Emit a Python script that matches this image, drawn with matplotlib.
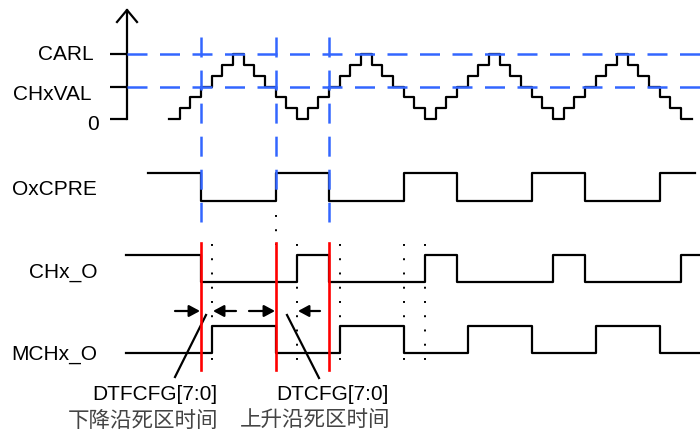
import numpy as np
import matplotlib.pyplot as plt

plt.rcParams['lines.scale_dashes'] = False
plt.rcParams['font.family'] = ['Liberation Sans', 'Noto Sans CJK SC', 'DejaVu Sans']

# timer counter value on every tick (up/down counting)
counter = [0, 1, 2, 3, 4, 5, 6, 5, 4, 3, 2, 1,
           0, 1, 2, 3, 4, 5, 6, 5, 4, 3, 2, 1,
           0, 1, 2, 3, 4, 5, 6, 5, 4, 3, 2, 1,
           0, 1, 2, 3, 4, 5, 6, 5, 4, 3, 2, 1,
           0]
carl = 6
chxval = 3

# edges (in ticks) and levels of the digital signals
ocpre_t = [-2, 3, 10, 15, 22, 27, 34, 39, 46, 49.3]
ocpre_v = [1, 0, 1, 0, 1, 0, 1, 0, 1, 1]
chx_t = [-4, 3, 12, 15, 24, 27, 36, 39, 48, 49.8]
chx_v = [1, 0, 1, 0, 1, 0, 1, 0, 1, 1]
mchx_t = [-4, 4, 10, 16, 22, 28, 34, 40, 46, 49.8]
mchx_v = [0, 1, 0, 1, 0, 1, 0, 1, 0, 0]

blue_t = [3, 10, 15]
red_t = [3, 10, 15]
dot_t = [4, 12, 16, 22, 24]

level_labels = ['CARL', 'CHxVAL', '0']
row_labels = ['OxCPRE', 'CHx_O', 'MCHx_O']

BLUE = '#3366ff'
RED = '#ff0000'
LW = 1.6

# layout: x in ticks, y in pixels from the top
STEP = 128 / 12
X0 = 169


def px(x):
    return (x - X0) / STEP


def cnt_y(k):
    return 119 - k * 65 / 6


def row(v, hi, lo):
    return [hi if b else lo for b in v]


fig = plt.figure(figsize=(7, 4.32), dpi=100)
ax = fig.add_axes([0, 0, 1, 1])
ax.set_xlim(px(0), px(700))
ax.set_ylim(432, 0)
ax.axis('off')

# counter axis with open arrow head
ax.plot([px(127), px(127)], [119, 10], color='black', lw=LW)
ax.plot([px(117), px(127), px(137)], [22, 10, 22], color='black', lw=LW)
for k in [carl, chxval, 0]:
    ax.plot([px(110), px(127)], [cnt_y(k)] * 2, color='black', lw=LW,
            solid_capstyle='butt')

# staircase
t = np.arange(len(counter) + 1)
ax.step(t, [cnt_y(k) for k in counter + counter[-1:]], where='post',
        color='black', lw=LW)

# compare levels
for k in [carl, chxval]:
    ax.plot([px(127), px(700)], [cnt_y(k)] * 2, color=BLUE, lw=1.8,
            dashes=(14.4, 9), zorder=4)
for tb in blue_t:
    bottom = 201 if tb == 10 else 222
    ax.plot([tb, tb], [37, bottom], color=BLUE, lw=1.8, dashes=(14.4, 9.4),
            zorder=4)

# digital waveforms
ax.step(ocpre_t, row(ocpre_v, 173, 201), where='post', color='black', lw=LW)
ax.step(chx_t, row(chx_v, 255, 282), where='post', color='black', lw=LW)
ax.step(mchx_t, row(mchx_v, 326, 353), where='post', color='black', lw=LW)

# dead-time markers
for tr in red_t:
    ax.plot([tr, tr], [243, 370], color=RED, lw=1.9, zorder=5)
for td in dot_t:
    ax.plot([td, td], [244, 360], color='black', lw=1.4, dashes=(1.4, 8.86))
ax.plot([10, 10], [215, 245], color='black', lw=1.4, dashes=(1.4, 8.86))

arrows = [(175, 200), (236, 213), (249, 275), (320, 298)]
for tail, tip in arrows:
    ax.annotate('', xy=(px(tip), 311), xytext=(px(tail), 311),
                arrowprops=dict(arrowstyle='-|>,head_length=0.65,head_width=0.35',
                                color='black', lw=LW, shrinkA=0, shrinkB=0,
                                mutation_scale=10))
ax.plot([px(206), px(175)], [315, 377], color='black', lw=LW)
ax.plot([px(287), px(319)], [315, 378], color='black', lw=LW)

# labels
fs = 15
for lab, x, y in zip(level_labels, [94, 91, 99], [60, 100, 130]):
    ax.text(px(x), y, lab, ha='right', va='baseline', fontsize=fs)
for lab, y in zip(row_labels, [195, 278, 360]):
    ax.text(px(97), y, lab, ha='right', va='baseline', fontsize=fs)

ax.text(px(154.5), 400, 'DTFCFG[7:0]', ha='center', va='baseline', fontsize=fs)
ax.text(px(332), 400, 'DTCFG[7:0]', ha='center', va='baseline', fontsize=fs)
ax.text(px(143.5), 427, '下降沿死区时间', ha='center', va='baseline',
        fontsize=15.5, color='#444444', family=['Noto Sans CJK SC', 'DejaVu Sans'])
ax.text(px(315), 427, '上升沿死区时间', ha='center', va='baseline',
        fontsize=15.5, color='#444444', family=['Noto Sans CJK SC', 'DejaVu Sans'])

fig.savefig('out.png', dpi=100)
